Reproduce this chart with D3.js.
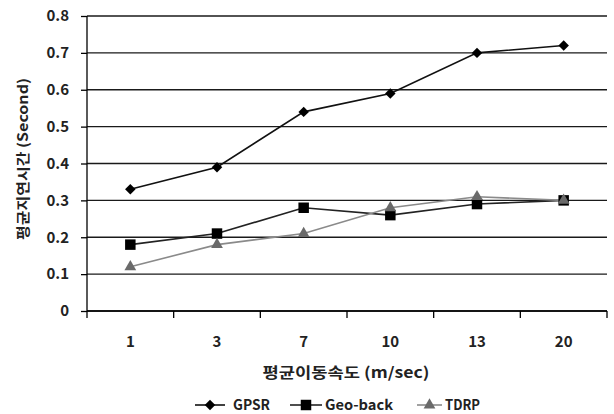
<!DOCTYPE html>
<html><head><meta charset="utf-8">
<script src="https://cdn.jsdelivr.net/npm/d3@7"></script>
<style>body{margin:0;background:#fff}svg{display:block}text{font-family:"Noto Sans CJK KR","Noto Sans",sans-serif}</style>
</head><body><svg id="c" width="614" height="414"></svg>
<script>
const categories = ["1","3","7","10","13","20"];
const gpsr = [0.33,0.39,0.54,0.59,0.70,0.72];
const geoback = [0.18,0.21,0.28,0.26,0.29,0.30];
const tdrp = [0.12,0.18,0.21,0.28,0.31,0.30];
const yTicks = [0,0.1,0.2,0.3,0.4,0.5,0.6,0.7,0.8];
const seriesNames = ["GPSR","Geo-back","TDRP"];

const svg = d3.select("#c");
const L=87, R=607, T=16, B=311;
const x = d3.scaleBand().domain(categories).range([L,R]);
const y = d3.scaleLinear().domain([0,0.8]).range([B,T]);

// gridlines
svg.append("g").selectAll("line").data(yTicks).join("line")
  .attr("x1",L).attr("x2",R).attr("y1",d=>y(d)).attr("y2",d=>y(d))
  .attr("stroke","#1a1a1a").attr("stroke-width",1.3);

// y axis
const ya = svg.append("g").attr("transform",`translate(${L},0)`)
  .call(d3.axisLeft(y).tickValues(yTicks).tickSize(6).tickPadding(12).tickFormat(d=>d===0?"0":d3.format(".1f")(d)));
ya.select(".domain").remove();
ya.append("line").attr("x1",0).attr("x2",0).attr("y1",T).attr("y2",B+7).attr("stroke","#000").attr("stroke-width",1.3);
ya.selectAll(".tick line").attr("stroke","#000").attr("stroke-width",1.3);
ya.selectAll(".tick text").attr("font-size",15).attr("font-weight","bold").attr("fill","#222");

// x axis
const xa = svg.append("g").attr("transform",`translate(0,${B})`)
  .call(d3.axisBottom(x).tickSize(0).tickPadding(25));
xa.select(".domain").remove();
xa.append("line").attr("x1",L).attr("x2",R).attr("stroke","#000").attr("stroke-width",1.3);
xa.selectAll("line.sep").data(categories).join("line").attr("class","sep")
  .attr("x1",d=>x(d)+x.bandwidth()).attr("x2",d=>x(d)+x.bandwidth())
  .attr("y1",0).attr("y2",7).attr("stroke","#000").attr("stroke-width",1.3);
xa.selectAll(".tick text").attr("font-size",15).attr("font-weight","bold").attr("fill","#222");

const cx = d=>x(d)+x.bandwidth()/2;
const line = d3.line().x(d=>cx(d[0])).y(d=>y(d[1]));
const diamond = {draw(ctx,size){const r=Math.sqrt(size)/2;ctx.moveTo(0,-r);ctx.lineTo(r,0);ctx.lineTo(0,r);ctx.lineTo(-r,0);ctx.closePath();}};
const data = [
  {name:"GPSR", vals:gpsr, stroke:"#111", fill:"#000", sym:diamond, size:110},
  {name:"Geo-back", vals:geoback, stroke:"#222", fill:"#000", sym:d3.symbolSquare, size:110},
  {name:"TDRP", vals:tdrp, stroke:"#8a8a8a", fill:"#6a6a6a", sym:d3.symbolTriangle, size:60}
];
data.forEach(s=>{
  const pts = categories.map((c,i)=>[c,s.vals[i]]);
  svg.append("path").attr("d",line(pts)).attr("fill","none").attr("stroke",s.stroke).attr("stroke-width",1.6);
});
data.forEach(s=>{
  const pts = categories.map((c,i)=>[c,s.vals[i]]);
  svg.append("g").selectAll("path").data(pts).join("path")
    .attr("transform",d=>`translate(${cx(d[0])},${y(d[1])})`)
    .attr("d",d3.symbol().type(s.sym).size(s.size)).attr("fill",s.fill);
});

// axis titles
svg.append("text").attr("x",346).attr("y",378).attr("text-anchor","middle")
  .attr("font-size",15).attr("font-weight","bold").attr("fill","#222")
  .attr("textLength",167).attr("lengthAdjust","spacingAndGlyphs").text("평균이동속도 (m/sec)");
svg.append("text").attr("transform","translate(28,159) rotate(-90)").attr("text-anchor","middle")
  .attr("font-size",14).attr("font-weight","bold").attr("fill","#222")
  .attr("textLength",162).attr("lengthAdjust","spacingAndGlyphs").text("평균지연시간 (Second)");

// legend
const legLine = [[195,225],[290,322],[417,442]];
const legTxt = [233,325,445];
const legW = [37,68,35];
data.forEach((s,i)=>{
  const g = svg.append("g");
  const [x0,x1] = legLine[i];
  g.append("line").attr("x1",x0).attr("x2",x1).attr("y1",405).attr("y2",405).attr("stroke",s.stroke).attr("stroke-width",1.6);
  g.append("path").attr("transform",`translate(${(x0+x1)/2},405)`).attr("d",d3.symbol().type(s.sym).size(s.size)).attr("fill",s.fill);
  g.append("text").attr("x",legTxt[i]).attr("y",410).attr("font-size",14).attr("font-weight","bold").attr("fill","#222")
    .attr("textLength",legW[i]).attr("lengthAdjust","spacingAndGlyphs").text(s.name);
});
</script></body></html>
